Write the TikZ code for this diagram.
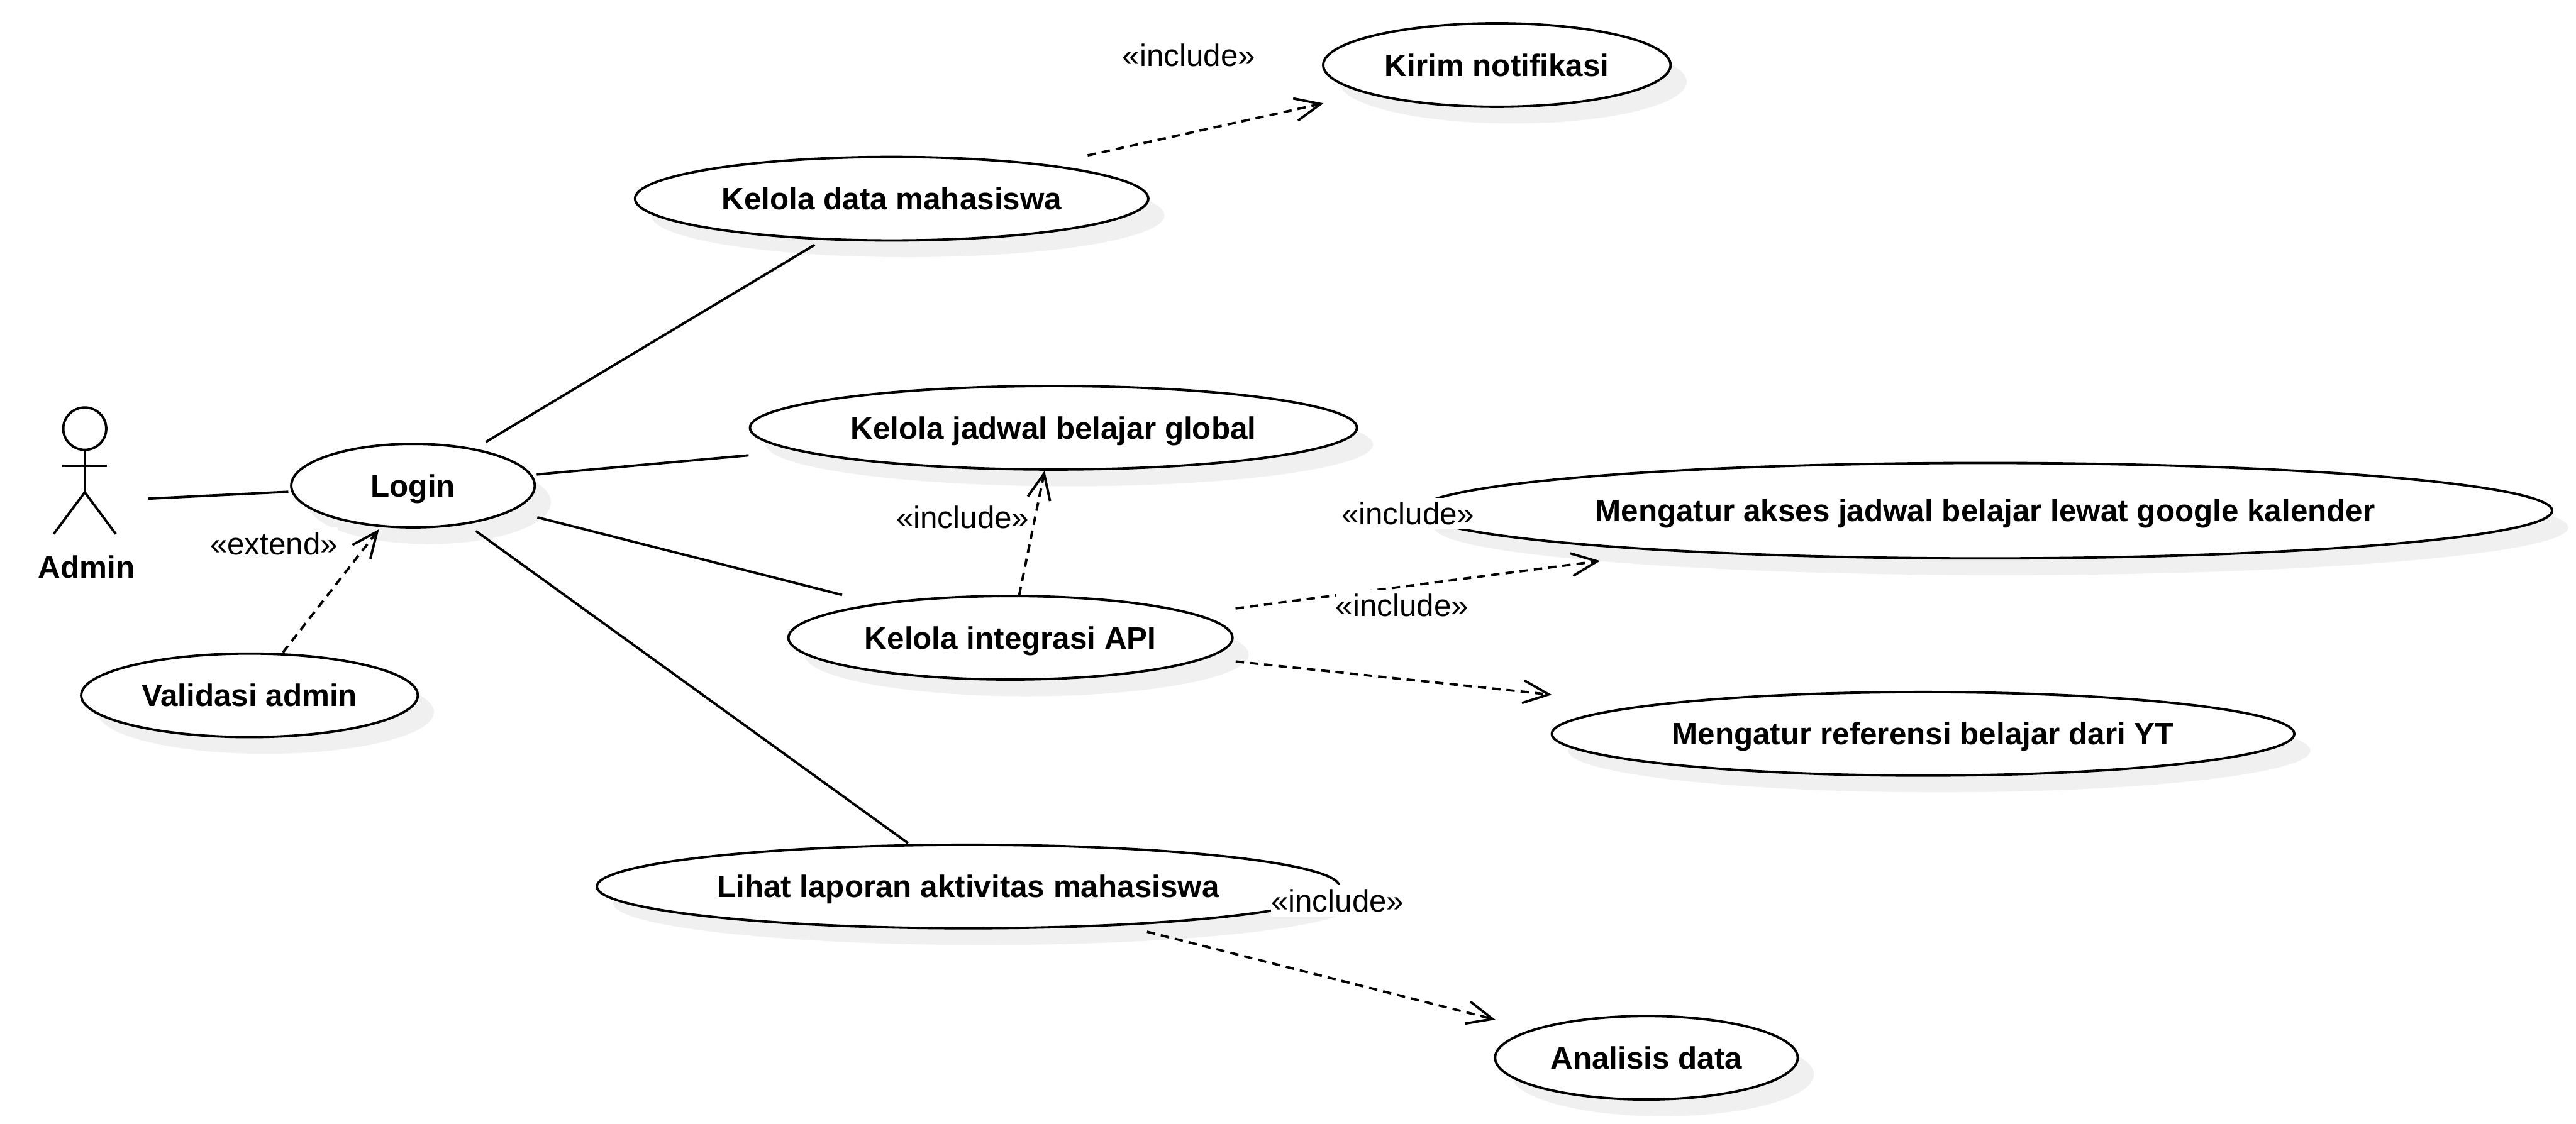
\documentclass[tikz,border=0pt]{standalone}
\usepackage{fontspec}
\setmainfont{Liberation Sans}
\usepackage{xcolor}
\usepackage{tikz}
\usetikzlibrary{arrows.meta,positioning,shapes.geometric,shadows}
\definecolor{ucshadow}{HTML}{F0F0F0}
\newcommand{\ucfont}{\fontsize{14.8}{18}\selectfont}
\tikzset{
  uc/.style    = {ellipse, draw=black, fill=white, line width=1.15pt, inner sep=0pt, outer sep=0pt,
                  minimum width=#1cm, minimum height=1.40cm, font=\ucfont\bfseries,
                  text height=0.37cm, text depth=0pt,
                  drop shadow={shadow xshift=0.27cm, shadow yshift=-0.28cm, fill=ucshadow, opacity=1}},
  actorbox/.style = {minimum width=1.04cm, minimum height=3.16cm, inner sep=0pt, outer sep=0pt},
  actorline/.style = {line width=1.15pt, draw=black},
  actorlbl/.style = {font=\ucfont\bfseries, inner sep=0pt},
  assoc/.style = {line width=1.15pt},
  dep/.style   = {-{Straight Barb[length=4.3mm,width=3.8mm]}, line width=1.15pt,
                  dash pattern=on 0.14cm off 0.10cm},
  lbl/.style   = {font=\ucfont, fill=white, inner sep=0pt, minimum height=0.53cm},
}
\begin{document}
\begin{tikzpicture}[on grid]
  \useasboundingbox (0,0) rectangle (43.16,-18.84);
  \node[uc=4.08] (login) at (6.92,-8.14) {Login};
  \node[actorbox, below left=0.27cm and 5.50cm of login] (admin) {};
  \node[actorlbl, below right=1.09cm and 0.03cm of admin] (adminlbl) {Admin};
  \node[uc=5.64, below left=3.515cm and 2.74cm of login] (validasi) {Validasi admin};
  \node[uc=8.60, above right=4.81cm and 8.02cm of login] (kdata) {Kelola data mahasiswa};
  \node[uc=10.17, above right=0.97cm and 10.73cm of login] (jadwal) {Kelola jadwal belajar global};
  \node[uc=7.44, below right=2.55cm and 10.01cm of login] (api) {Kelola integrasi API};
  \node[uc=12.44, below right=6.72cm and 9.30cm of login] (lihat) {Lihat laporan aktivitas mahasiswa};
  \node[uc=5.82, above right=2.24cm and 10.14cm of kdata] (kirim) {Kirim notifikasi};
  \node[uc=19.0, minimum height=1.60cm, above right=2.13cm and 16.33cm of api] (akses) {Mengatur akses jadwal belajar lewat google kalender};
  \node[uc=12.44, below right=1.61cm and 15.29cm of api] (ref) {Mengatur referensi belajar dari YT};
  \node[uc=5.07, below right=2.87cm and 11.365cm of lihat] (analisis) {Analisis data};
  % stick figure
  \begin{scope}[shift={(admin.center)}]
    \draw[actorline] (0,1.225) ellipse [x radius=0.36, y radius=0.355];
    \draw[actorline] (0,0.87) -- (0,0.16);
    \draw[actorline] (-0.375,0.60) -- (0.375,0.60);
    \draw[actorline] (-0.52,-0.54) -- (0,0.16) -- (0.52,-0.54);
  \end{scope}
  \draw[assoc, shorten <=0.54cm, shorten >=0.07cm] (admin) -- (login);
  \draw[assoc, shorten <=0.24cm, shorten >=0.19cm] (login) -- (kdata);
  \draw[assoc, shorten <=0.10cm, shorten >=0.86cm] (login) -- (jadwal);
  \draw[assoc, shorten <=0.46cm, shorten >=0.63cm] (login) -- (api);
  \draw[assoc, shorten <=0.22cm, shorten >=0.06cm] (login) -- (lihat);
  \draw[dep, shorten <=0.04cm, shorten >=0.07cm] (validasi) -- (login);
  \draw[dep, shorten <=0.75cm, shorten >=0.78cm] (kdata) -- (kirim);
  \draw[dep, shorten <=0.02cm, shorten >=0.02cm] (api) -- (jadwal);
  \draw[dep, shorten <=0.72cm, shorten >=1.31cm] (api) -- (akses);
  \draw[dep, shorten <=0.53cm, shorten >=1.69cm] (api) -- (ref);
  \draw[dep, shorten <=0.48cm, shorten >=0.68cm] (lihat) -- (analisis);
  \node[lbl, below left=0.05cm and 2.33cm of login, yshift=-0.92cm] (lblextend) {«extend»};
  \node[lbl, above left=0.16cm and 5.16cm of kirim] (lblkirim) {«include»};
  \node[lbl, above left=2.02cm and 0.80cm of api] (lbljadwal) {«include»};
  \node[lbl, below left=0.05cm and 9.67cm of akses] (lblakses) {«include»};
  \node[lbl, above left=2.15cm and 8.73cm of ref] (lblref) {«include»};
  \node[lbl, above left=2.63cm and 5.175cm of analisis] (lblanalisis) {«include»};
\end{tikzpicture}
\end{document}
